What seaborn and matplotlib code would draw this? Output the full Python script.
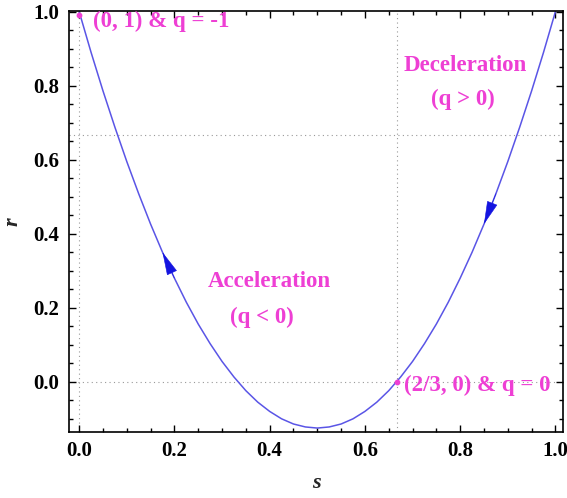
import numpy as np
import pandas as pd
import seaborn as sns
import matplotlib.pyplot as plt
from matplotlib.ticker import MultipleLocator

# s-r trajectory
s_vals = [0.0, 0.025, 0.05, 0.075, 0.1, 0.125, 0.15, 0.175, 0.2, 0.225,
          0.25, 0.275, 0.3, 0.325, 0.35, 0.375, 0.4, 0.425, 0.45, 0.475,
          0.5, 0.525, 0.55, 0.575, 0.6, 0.625, 0.65, 0.675, 0.7, 0.725,
          0.75, 0.775, 0.8, 0.825, 0.85, 0.875, 0.9, 0.925, 0.95, 0.975, 1.0]
r_vals = [1.0, 0.890, 0.786, 0.688, 0.595, 0.508, 0.426, 0.350, 0.280, 0.215,
          0.156, 0.103, 0.055, 0.013, -0.024, -0.055, -0.080, -0.100, -0.114, -0.122,
          -0.125, -0.122, -0.114, -0.100, -0.080, -0.055, -0.024, 0.013, 0.055, 0.103,
          0.156, 0.215, 0.280, 0.350, 0.426, 0.508, 0.595, 0.688, 0.786, 0.890, 1.0]
fixed_s = [0.0, 2/3]
fixed_r = [0.99, 0.0]
fixed_labels = ["(0, 1) & q = -1", "(2/3, 0) & q = 0"]

df = pd.DataFrame({"s": s_vals, "r": r_vals})

sns.set_style("ticks")
plt.rcParams['font.family'] = ['Liberation Serif', 'DejaVu Serif']

fig = plt.figure(figsize=(5.67, 4.98), dpi=100)
ax = fig.add_axes([0.122, 0.133, 0.871, 0.845])

curve_col = "#5a55e6"
mag = "#ee3fd4"
fs = 16.5

# dotted guide lines
for v in [0, 2/3]:
    ax.axvline(v, color="#999999", ls=(0, (1, 3)), lw=0.8, zorder=0)
    ax.axhline(v, color="#999999", ls=(0, (1, 3)), lw=0.8, zorder=0)

sns.lineplot(data=df, x="s", y="r", sort=False, color=curve_col, lw=1.1, ax=ax)

# direction arrows (head at the first point, pointing along the curve)
for a, b in [(7, 8), (34, 35)]:
    ax.annotate("", xy=(s_vals[a], r_vals[a]), xytext=(s_vals[b], r_vals[b]),
                arrowprops=dict(arrowstyle="-|>,head_length=0.85,head_width=0.2",
                                color="#1414e0", lw=0.4, shrinkA=0, shrinkB=0,
                                mutation_scale=18))

ax.scatter(fixed_s, fixed_r, color=mag, s=10, zorder=5, clip_on=False)
ax.text(0.03, 0.975, fixed_labels[0], color=mag, fontsize=fs, fontweight="bold", va="center", zorder=10)
ax.text(0.683, -0.01, fixed_labels[1], color=mag, fontsize=fs, fontweight="bold", va="center")
ax.text(0.81, 0.854, "Deceleration", color=mag, fontsize=fs, fontweight="bold", ha="center", va="center")
ax.text(0.805, 0.764, "(q > 0)", color=mag, fontsize=fs, fontweight="bold", ha="center", va="center")
ax.text(0.40, 0.271, "Acceleration", color=mag, fontsize=fs, fontweight="bold", ha="center", va="center")
ax.text(0.384, 0.173, "(q < 0)", color=mag, fontsize=fs, fontweight="bold", ha="center", va="center")

ax.set_xlim(-0.021, 1.016)
ax.set_ylim(-0.135, 1.002)
ax.xaxis.set_major_locator(MultipleLocator(0.2))
ax.xaxis.set_minor_locator(MultipleLocator(0.05))
ax.yaxis.set_major_locator(MultipleLocator(0.2))
ax.yaxis.set_minor_locator(MultipleLocator(0.05))
ax.tick_params(which="both", direction="in", top=True, right=True, width=1, colors="black")
ax.tick_params(which="major", length=5, labelsize=15, pad=7)
ax.tick_params(which="minor", length=3)
for lab in ax.get_xticklabels() + ax.get_yticklabels():
    lab.set_fontweight("bold")
for sp in ax.spines.values():
    sp.set_linewidth(1.2)
    sp.set_color("black")

ax.set_xlabel("s", fontsize=16, fontweight="bold", style="italic", labelpad=8)
ax.set_ylabel("r", fontsize=16, fontweight="bold", style="italic", labelpad=8)

fig.savefig("out.png", dpi=100)
